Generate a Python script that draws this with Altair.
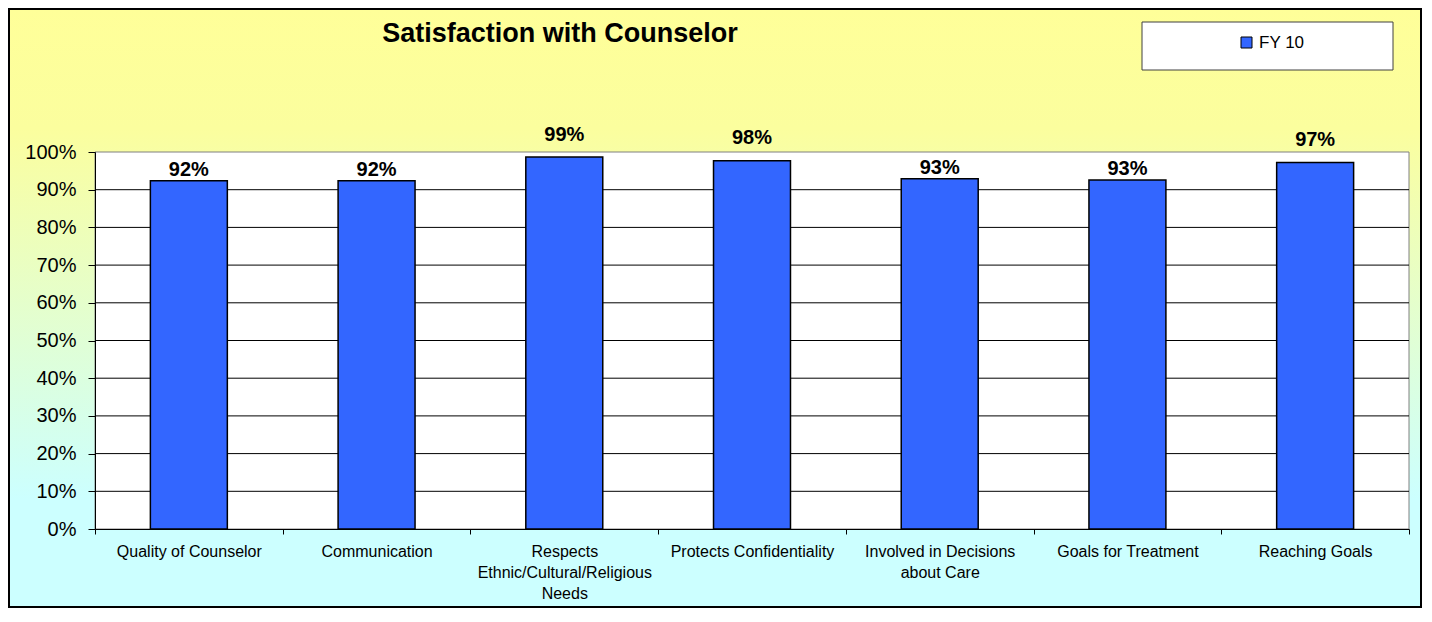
import altair as alt
import pandas as pd

# ---- data ----
categories = [
    "Quality of Counselor",
    "Communication",
    "Respects Ethnic/Cultural/Religious Needs",
    "Protects Confidentiality",
    "Involved in Decisions about Care",
    "Goals for Treatment",
    "Reaching Goals",
]
values = [0.924, 0.924, 0.987, 0.977, 0.929, 0.926, 0.972]
series_name = "FY 10"
y_ticks = [0.0, 0.1, 0.2, 0.3, 0.4, 0.5, 0.6, 0.7, 0.8, 0.9, 1.0]
grid_values = [0.1, 0.2, 0.3, 0.4, 0.5, 0.6, 0.7, 0.8, 0.9]
label_lines = {
    "Respects Ethnic/Cultural/Religious Needs": ["Respects", "Ethnic/Cultural/Religious", "Needs"],
    "Involved in Decisions about Care": ["Involved in Decisions", "about Care"],
}
title_text = "Satisfaction with Counselor"

# ---- layout ----
W, H = 1314, 377
PAD_L, PAD_T, PAD_R, PAD_B = 87, 144, 13, 79
FONT = "Liberation Sans"

df = pd.DataFrame({"category": categories, "value": values, "series": series_name})
grid_df = pd.DataFrame({"value": grid_values})
one = pd.DataFrame({"k": [0]})

# label expression for wrapped x labels
parts = []
for k, lines in label_lines.items():
    arr = "[" + ",".join("'" + l + "'" for l in lines) + "]"
    parts.append(f"datum.value == '{k}' ? {arr} : ")
label_expr = "".join(parts) + "datum.value"

x_axis = alt.Axis(
    title=None,
    labelAngle=0,
    tickBand="extent",
    tickSize=5,
    tickColor="black",
    domainColor="black",
    labelColor="black",
    labelFont=FONT,
    labelFontSize=16,
    labelLineHeight=21,
    labelPadding=9,
    labelLimit=400,
    labelOverlap=False,
    labelExpr=label_expr,
    grid=False,
    zindex=1,
)
y_axis = alt.Axis(
    title=None,
    values=y_ticks,
    format=".0%",
    tickSize=7,
    tickColor="black",
    domainColor="black",
    labelColor="black",
    labelFont=FONT,
    labelFontSize=20,
    labelPadding=12,
    labelOverlap=False,
    grid=False,
    zindex=1,
)
x_scale = alt.Scale(paddingInner=0, paddingOuter=0)
y_scale = alt.Scale(domain=[0, 1], nice=False)

gradient = alt.LinearGradient(
    gradient="linear",
    stops=[
        alt.GradientStop(color="#FFFF99", offset=0),
        alt.GradientStop(color="#FBFE9E", offset=0.2),
        alt.GradientStop(color="#CCFFFF", offset=0.82),
        alt.GradientStop(color="#CCFFFF", offset=1),
    ],
    x1=0, x2=0, y1=0, y2=1,
)

bg = alt.Chart(one).mark_rect(fill=gradient, stroke="black", strokeWidth=2).encode(
    x=alt.value(-PAD_L + 1), x2=alt.value(W + PAD_R - 1),
    y=alt.value(-PAD_T + 1), y2=alt.value(H + PAD_B - 1),
)
plot_bg = alt.Chart(one).mark_rect(fill="white", stroke="#808080", strokeWidth=1).encode(
    x=alt.value(0), x2=alt.value(W), y=alt.value(0), y2=alt.value(H),
)
grid = alt.Chart(grid_df).mark_rule(color="black", strokeWidth=1).encode(
    y=alt.Y("value:Q", scale=y_scale, axis=y_axis), x=alt.value(0), x2=alt.value(W),
)
bars = alt.Chart(df).mark_bar(
    width=alt.RelativeBandSize(0.41), stroke="black", strokeWidth=1.5
).encode(
    x=alt.X("category:N", sort=categories, scale=x_scale, axis=x_axis),
    y=alt.Y("value:Q", scale=y_scale, axis=y_axis),
    color=alt.Color(
        "series:N",
        scale=alt.Scale(range=["#3366FF"]),
        legend=alt.Legend(
            title=None,
            orient="none",
            legendX=1143,
            legendY=-118,
            padding=0,
            symbolType="square",
            symbolSize=121,
            symbolStrokeColor="black",
            symbolStrokeWidth=1,
            labelFont=FONT,
            labelFontSize=17,
            labelColor="black",
            labelOffset=4,
        ),
    ),
)
# labels of the tallest bars sit a little higher (as in the original chart)
labels = alt.Chart(df).transform_calculate(
    label_y="datum.value > 0.95 ? datum.value + 0.03 : datum.value"
).mark_text(
    font=FONT, fontSize=20, fontWeight="bold", color="black", baseline="alphabetic", dy=-5
).encode(
    x=alt.X("category:N", sort=categories, scale=x_scale, axis=x_axis),
    y=alt.Y("label_y:Q", scale=y_scale, axis=y_axis),
    text=alt.Text("value:Q", format=".0%"),
)
title = alt.Chart(one).mark_text(
    font=FONT, fontSize=27, fontWeight="bold", color="black", align="center", baseline="alphabetic"
).encode(
    x=alt.value(465), y=alt.value(-110), text=alt.value(title_text),
)
legend_box = alt.Chart(one).mark_rect(fill="white", stroke="#404040", strokeWidth=1).encode(
    x=alt.value(1047), x2=alt.value(1298), y=alt.value(-130), y2=alt.value(-82),
)

chart = alt.layer(bg, plot_bg, grid, bars, labels, title, legend_box).properties(
    width=W,
    height=H,
    autosize=alt.AutoSizeParams(type="none"),
    padding={"left": PAD_L, "top": PAD_T, "right": PAD_R, "bottom": PAD_B},
).configure_view(strokeWidth=0).configure(background="white").configure_axis(
    labelOverlap=False, zindex=1
)

chart.save("out.html", embed_options={"renderer": "svg", "actions": False})
